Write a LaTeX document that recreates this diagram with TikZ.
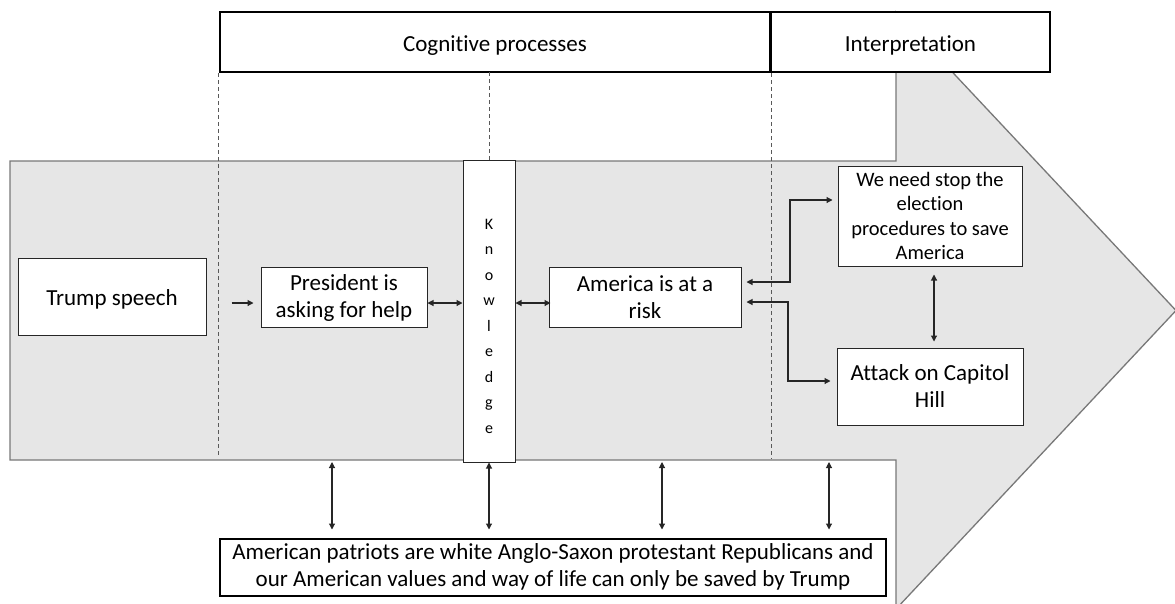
\documentclass[tikz,border=0pt]{standalone}
\usepackage{fontspec}
\setmainfont{Carlito}[Ligatures=NoCommon]
\usetikzlibrary{arrows.meta,calc}
\definecolor{shaftfill}{RGB}{230,230,230}
\definecolor{shaftedge}{RGB}{120,120,120}
\begin{document}
\begin{tikzpicture}[x=1pt,y=-1pt,
  box/.style={draw=black!85, line width=1pt, fill=white, align=center, inner sep=2pt,
    font=\fontsize{23}{27}\selectfont},
  headbox/.style={draw=black, line width=2.6pt, fill=white, inner sep=0pt,
    text height=20pt, text depth=2pt, font=\fontsize{23}{27}\selectfont},
  conn/.style={draw=black!85, line width=1.1pt,
    {Triangle[length=6pt,width=6pt]}-{Triangle[length=6pt,width=6pt]}},
  oneway/.style={draw=black!85, line width=1.1pt, -{Triangle[length=6pt,width=6pt]}},
  guide/.style={draw=black!65, line width=1pt, dash pattern=on 4pt off 3pt}]
\useasboundingbox (0,0) rectangle (1175,603);
\begin{scope}
\clip (0,0) rectangle (1175,603);
\draw[fill=shaftfill, draw=shaftedge, line width=1.3pt]
  (10,161) -- (896,161) -- (896,12) -- (1176,310.5) -- (896,609) -- (896,460) -- (10,460) -- cycle;
\end{scope}
% header
\node[headbox, minimum width=550pt, minimum height=60pt] (cog) at (495,42) {Cognitive processes};
\node[headbox, minimum width=279pt, minimum height=60pt] (interp) at (910.5,42) {Interpretation};
% guides
\draw[guide] (cog.south west) -- ++(0,383);
\draw[guide] (cog.south east) -- ++(0,386);
\coordinate (g2) at (489,72);
% nodes
\node[box, minimum width=188pt, minimum height=77pt, text height=19pt, text depth=2pt] (trump) at (112,296.5) {Trump speech};
\node[box, minimum width=166pt, minimum height=60pt] (pres) at (344,297.5) {President is\\asking for help};
\node[box, minimum width=52pt, minimum height=302pt] (know) at (489,311) {};
\node[align=center, inner sep=0pt, font=\fontsize{16}{25.5}\selectfont] (knowtext) at (489,326)
  {K\\n\\o\\w\\l\\e\\d\\g\\e};
\draw[guide] (g2) -- (know.north);
\node[box, minimum width=192pt, minimum height=60pt] (amer) at (645,297.5) {America is at a\\risk};
\node[box, minimum width=184pt, minimum height=100pt, font=\fontsize{20.5}{24.6}\selectfont] (stop) at (930,216)
  {We need stop the\\election\\procedures to save\\America};
\node[box, minimum width=186pt, minimum height=77pt] (attack) at (930,386.5) {Attack on Capitol\\Hill};
\node[box, line width=2pt, draw=black, minimum width=666pt, minimum height=57pt, inner sep=0pt] (bottom) at (553,567)
  {American patriots are white Anglo-Saxon protestant Republicans and\\our American values and way of life can only be saved by Trump};
% connectors
\draw[oneway] ([xshift=25pt,yshift=-6.5pt]trump.east) -- ([xshift=-7pt,yshift=-5.5pt]pres.west);
\draw[conn] ([yshift=-5.5pt]pres.east) -- ([yshift=-5.5pt]pres.east -| know.west);
\draw[conn] ([yshift=-5.5pt]amer.west -| know.east) -- ([xshift=2pt,yshift=-5.5pt]amer.west);
\coordinate (e1) at (790,282);
\coordinate (e2) at (788,302);
\draw[conn] ([xshift=5pt,yshift=15.5pt]amer.east) -- (e1) |- ([xshift=-5pt,yshift=16pt]stop.west);
\draw[conn] ([xshift=5pt,yshift=-4.5pt]amer.east) -- (e2) |- ([xshift=-6pt,yshift=5.5pt]attack.west);
\draw[conn] ([xshift=4pt,yshift=-8pt]stop.south) -- ([xshift=4pt,yshift=6pt]attack.north);
\coordinate (v1) at (332,462);
\coordinate (v3) at (662,462);
\coordinate (v4) at (829,462);
\draw[conn, shorten >=8pt] (v1) -- (v1 |- bottom.north);
\draw[conn, shorten >=8pt] (know.south) -- (know.south |- bottom.north);
\draw[conn, shorten >=8pt] (v3) -- (v3 |- bottom.north);
\draw[conn, shorten >=8pt] (v4) -- (v4 |- bottom.north);
\end{tikzpicture}
\end{document}
